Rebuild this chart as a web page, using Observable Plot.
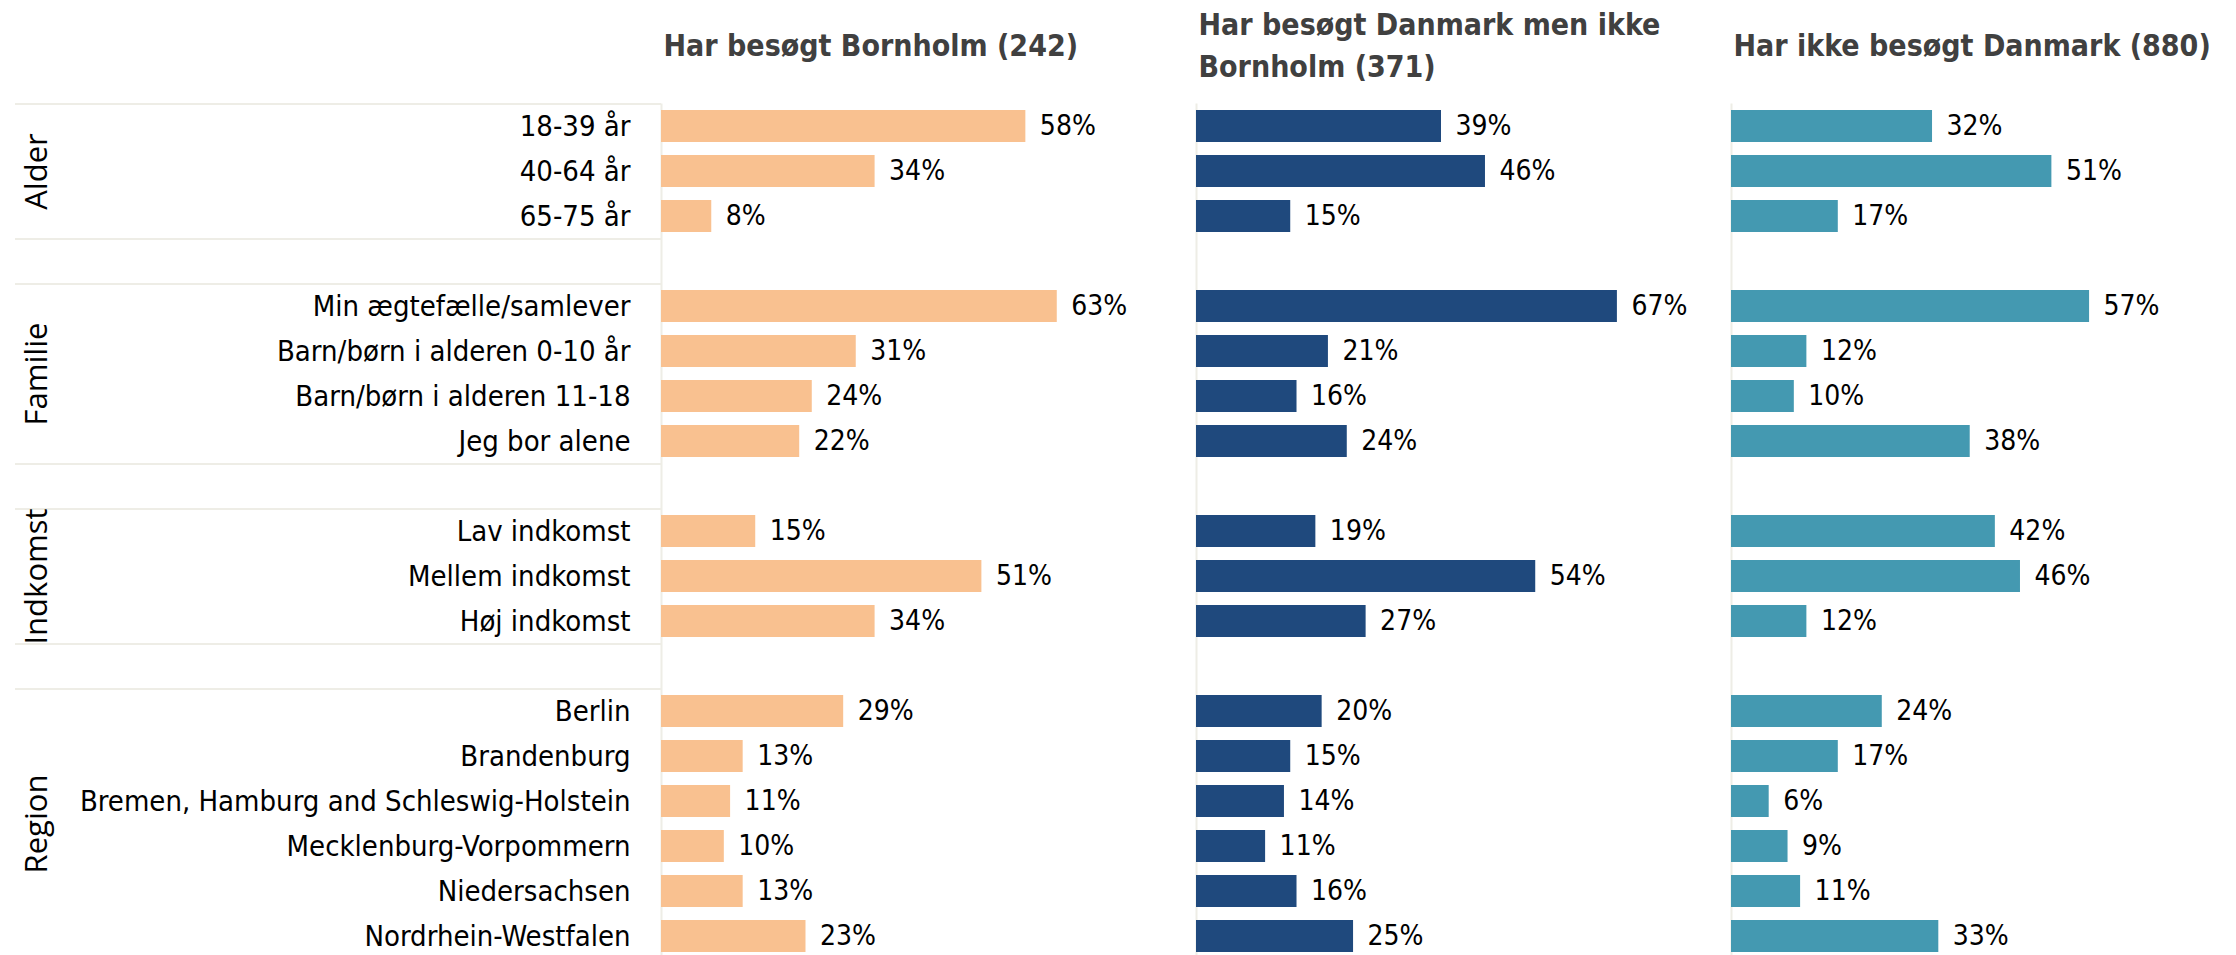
<!DOCTYPE html>
<html>
<head>
<meta charset="utf-8">
<script src="https://cdn.jsdelivr.net/npm/d3@7"></script>
<script src="https://cdn.jsdelivr.net/npm/@observablehq/plot@0.6"></script>
<style>
  html, body { margin: 0; padding: 0; background: #fff; overflow: hidden; }
  #chart svg { display: block; }
</style>
</head>
<body>
<div id="chart"></div>
<script>
// ---- data ----
const groups = ["Alder", "Familie", "Indkomst", "Region"];
const groupRows = [
  ["18-39 år", "40-64 år", "65-75 år"],
  ["Min ægtefælle/samlever", "Barn/børn i alderen 0-10 år", "Barn/børn i alderen 11-18", "Jeg bor alene"],
  ["Lav indkomst", "Mellem indkomst", "Høj indkomst"],
  ["Berlin", "Brandenburg", "Bremen, Hamburg and Schleswig-Holstein", "Mecklenburg-Vorpommern", "Niedersachsen", "Nordrhein-Westfalen"]
];
const series = [
  "Har besøgt Bornholm (242)",
  "Har besøgt Danmark men ikke\nBornholm (371)",
  "Har ikke besøgt Danmark (880)"
];
const valuesBornholm   = [58, 34, 8,  63, 31, 24, 22,  15, 51, 34,  29, 13, 11, 10, 13, 23];
const valuesDanmark    = [39, 46, 15, 67, 21, 16, 24,  19, 54, 27,  20, 15, 14, 11, 16, 25];
const valuesIkkeDanmark= [32, 51, 17, 57, 12, 10, 38,  42, 46, 12,  24, 17, 6,  9,  11, 33];
const seriesColors = ["#F9C190", "#1F497D", "#4499B1"];

// ---- build table ----
const allRows = groupRows.flat();
const seriesValues = [valuesBornholm, valuesDanmark, valuesIkkeDanmark];
const table = [];
series.forEach((s, si) => {
  allRows.forEach((r, ri) => table.push({series: s, row: r, value: seriesValues[si][ri]}));
});

// y domain with a blank spacer row between groups
const yDomain = [];
groupRows.forEach((rows, gi) => {
  if (gi > 0) yDomain.push("__gap" + gi);
  rows.forEach(r => yDomain.push(r));
});

const W = 2236, H = 955;
const marginTop = 103.5;
const nRows = yDomain.length;
const step = 45;
const marginBottom = H - (marginTop + step * nRows);
const marginLeft = 660, marginRight = 15;
const fxPad = 0.085;
const fxStep = (W - marginLeft - marginRight) / (3 - fxPad);
const panelW = fxStep * (1 - fxPad);

const labelFont = "'Liberation Sans Narrow', 'DejaVu Sans Condensed', 'Arial Narrow', sans-serif";

// group label anchors and separator lines
const groupLabels = groups.map((g, gi) => {
  const rows = groupRows[gi];
  const k = Math.floor((rows.length - 1) / 2);
  return {series: series[0], group: g, row: rows[k], even: rows.length % 2 === 0};
});
const sepTop = groupRows.map(rows => ({series: series[0], row: rows[0]}));
const sepBottom = groupRows.map(rows => ({series: series[0], row: rows[rows.length - 1]}));
const lineColor = "#EEEDE6";

const chart = Plot.plot({
  width: W,
  height: H,
  marginTop, marginBottom, marginLeft, marginRight,
  style: {fontFamily: labelFont, background: "#fff"},
  fx: {domain: series, paddingInner: fxPad, paddingOuter: 0, axis: null},
  x: {domain: [0, 78], axis: null},
  y: {domain: yDomain, paddingInner: 0.29, paddingOuter: 0.145, axis: null},
  color: {domain: series, range: seriesColors},
  marks: [
    // panel baselines
    Plot.ruleX(series, {fx: d => d, x: () => 0, stroke: lineColor, strokeWidth: 2}),
    // separators in label area
    Plot.ruleY(sepTop, {fx: "series", y: "row", dy: -step / 2, insetLeft: -(marginLeft - 14), insetRight: panelW, stroke: lineColor, strokeWidth: 2}),
    Plot.ruleY(sepBottom, {fx: "series", y: "row", dy: step / 2, insetLeft: -(marginLeft - 14), insetRight: panelW, stroke: lineColor, strokeWidth: 2}),
    Plot.barX(table, {fx: "series", y: "row", x: "value", fill: "series"}),
    Plot.text(table, {fx: "series", y: "row", x: "value", text: d => d.value + "%", textAnchor: "start", dx: 14, fontSize: 28, fill: "#000"}),
    Plot.axisY({fx: series[0], tickSize: 0, tickPadding: 31, fontSize: 29, tickFormat: d => d.startsWith("__gap") ? "" : d, fill: "#000", label: null}),
    // group labels (odd-sized groups centred on middle row, even-sized between the two middle rows)
    Plot.text(groupLabels.filter(d => !d.even), {fx: "series", y: "row", text: "group", frameAnchor: "left", dx: -(marginLeft - 36),
      rotate: -90, fontSize: 31, fontFamily: "'Open Sans', sans-serif", fill: "#000", textAnchor: "middle"}),
    Plot.text(groupLabels.filter(d => d.even), {fx: "series", y: "row", text: "group", frameAnchor: "left", dx: -(marginLeft - 36), dy: step / 2,
      rotate: -90, fontSize: 31, fontFamily: "'Open Sans', sans-serif", fill: "#000", textAnchor: "middle"}),
    // column titles
    Plot.text(series, {fx: d => d, text: d => d, frameAnchor: "top-left", dx: 2, dy: 42 - marginTop, lineAnchor: "middle", textAnchor: "start", fontSize: 30, fontWeight: "bold", fill: "#404040", lineHeight: 1.4})
  ]
});

document.getElementById("chart").appendChild(chart);
</script>
</body>
</html>
